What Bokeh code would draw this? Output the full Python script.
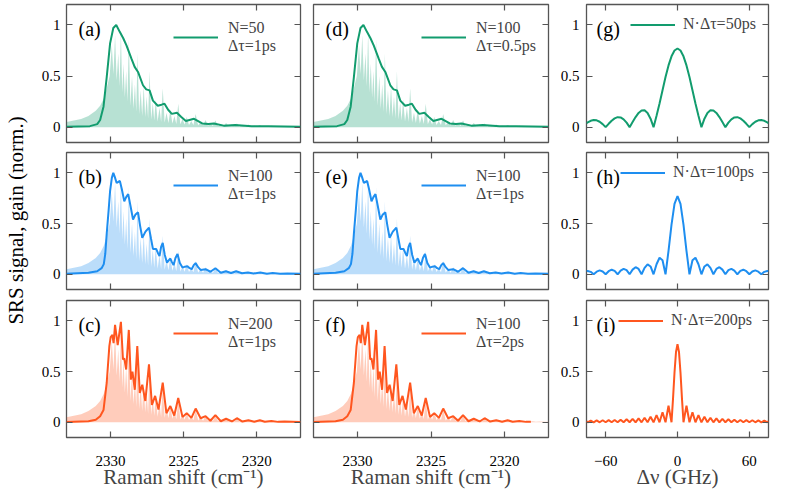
import math
from bokeh.plotting import figure
from bokeh.layouts import row, column
from bokeh.models import (Range1d, LinearAxis, FixedTicker, Label, Legend, LegendItem,
                          NumeralTickFormatter, BasicTickFormatter)
from bokeh.embed import file_html
from bokeh.resources import INLINE

FONT = "Liberation Serif"
GREEN = "#129c6e"
BLUE = "#1e8ef0"
ORANGE = "#ff561f"
FRAME = "#555555"

# ---------------- data ----------------
# theoretical Raman spectrum (shaded): low-frequency wing, then line spikes
wing_x = [2333.0, 2332.5, 2332.0, 2331.5, 2331.0, 2330.7, 2330.45, 2330.25, 2330.05]
wing_y = [0.05, 0.065, 0.08, 0.11, 0.16, 0.21, 0.28, 0.38, 0.50]
spike_x = [2329.90, 2329.68, 2329.46, 2329.28, 2329.10, 2328.92, 2328.74, 2328.52, 2328.32,
           2328.14, 2327.93, 2327.72, 2327.52, 2327.32, 2327.10, 2326.90, 2326.64, 2326.42,
           2326.16, 2325.90, 2325.62, 2325.36, 2325.07, 2324.78, 2324.47, 2324.17, 2323.83,
           2323.49, 2323.16, 2322.82, 2322.45, 2322.09, 2321.70, 2321.35, 2320.97, 2320.56,
           2320.16, 2319.78, 2319.38, 2318.96, 2318.53, 2318.09, 2317.62]
spike_h = [0.80, 0.90, 0.72, 0.93, 0.62, 0.55, 0.86, 0.50, 0.42, 0.72, 0.36, 0.40, 0.30,
           0.55, 0.24, 0.27, 0.19, 0.38, 0.14, 0.17, 0.11, 0.23, 0.08, 0.10, 0.06, 0.13,
           0.05, 0.07, 0.04, 0.065, 0.03, 0.04, 0.025, 0.035, 0.02, 0.025, 0.015, 0.02,
           0.012, 0.015, 0.01, 0.01, 0.008]
notch_y = [0.52, 0.46, 0.40, 0.34, 0.29, 0.25, 0.21, 0.18, 0.15, 0.13, 0.11, 0.10, 0.085,
           0.075, 0.065, 0.055, 0.05, 0.045, 0.04, 0.035, 0.03, 0.028, 0.025, 0.022, 0.02,
           0.018, 0.016, 0.014, 0.012, 0.011, 0.01, 0.009, 0.008, 0.007, 0.007, 0.006,
           0.006, 0.005, 0.005, 0.005, 0.004, 0.004, 0.004]
spec_end = 2316.9

# measured SRS signal, N*dtau = 50 ps  (a, d)
a_x = [2333.0, 2331.4, 2330.9, 2330.7, 2330.47, 2330.25, 2330.02, 2329.80, 2329.60, 2329.35,
       2329.12, 2328.90, 2328.56, 2328.34, 2328.11, 2327.77, 2327.55, 2327.32, 2327.09,
       2326.76, 2326.50, 2326.30, 2326.05, 2325.80, 2325.45, 2325.15, 2324.84, 2324.28,
       2323.72, 2323.30, 2322.93, 2322.25, 2321.47, 2320.34, 2319.2, 2317.0]
a_y = [0.003, 0.01, 0.03, 0.07, 0.20, 0.49, 0.82, 0.97, 1.00, 0.93, 0.87, 0.80, 0.67,
       0.59, 0.54, 0.41, 0.37, 0.36, 0.26, 0.21, 0.22, 0.23, 0.17, 0.13, 0.14, 0.10, 0.06,
       0.082, 0.036, 0.03, 0.036, 0.015, 0.02, 0.01, 0.008, 0.003]

# N*dtau = 100 ps  (b, e)
b_x = [2333.0, 2331.5, 2330.9, 2330.6, 2330.45, 2330.35, 2330.25, 2330.12, 2330.02, 2329.90,
       2329.80, 2329.70, 2329.57, 2329.45, 2329.35, 2329.22, 2329.05, 2328.92, 2328.78,
       2328.62, 2328.45, 2328.28, 2328.11, 2327.97, 2327.82, 2327.60, 2327.36, 2327.22,
       2327.09, 2326.98, 2326.87, 2326.75, 2326.64, 2326.53, 2326.42, 2326.28, 2326.13,
       2326.00, 2325.90, 2325.79, 2325.68, 2325.55, 2325.41, 2325.25, 2325.07, 2324.90,
       2324.73, 2324.58, 2324.44, 2324.30, 2324.17, 2324.00, 2323.83, 2323.49, 2323.16,
       2322.82, 2322.45, 2322.10, 2321.75, 2321.40, 2321.0, 2320.6, 2320.2, 2319.75,
       2319.3, 2318.9, 2318.4, 2317.9, 2317.0]
b_y = [0.005, 0.015, 0.03, 0.06, 0.10, 0.20, 0.40, 0.63, 0.82, 0.95, 1.00, 0.96, 0.90,
       0.91, 0.92, 0.84, 0.72, 0.76, 0.79, 0.67, 0.54, 0.59, 0.61, 0.48, 0.36, 0.42, 0.46,
       0.35, 0.25, 0.25, 0.25, 0.21, 0.18, 0.27, 0.31, 0.19, 0.115, 0.14, 0.155, 0.12,
       0.09, 0.16, 0.20, 0.11, 0.066, 0.075, 0.08, 0.06, 0.05, 0.09, 0.11, 0.07, 0.043,
       0.05, 0.025, 0.06, 0.015, 0.03, 0.012, 0.03, 0.01, 0.018, 0.008, 0.018, 0.006,
       0.012, 0.005, 0.008, 0.004]

# N*dtau = 200 ps  (c, f)
c_x = [2333.0, 2331.5, 2331.0, 2330.7, 2330.47, 2330.25, 2330.07, 2329.98, 2329.86, 2329.78,
       2329.68, 2329.50, 2329.28, 2329.14, 2329.05, 2328.92, 2328.74, 2328.60, 2328.49,
       2328.33, 2328.16, 2327.99, 2327.82, 2327.61, 2327.36, 2327.16, 2326.94, 2326.71,
       2326.42, 2326.17, 2325.90, 2325.63, 2325.36, 2325.07, 2324.78, 2324.46, 2324.17,
       2323.83, 2323.49, 2323.16, 2322.82, 2322.45, 2322.09, 2321.69, 2321.35, 2320.97,
       2320.56, 2320.16, 2319.78, 2319.44, 2318.99, 2318.53, 2318.09, 2317.0]
c_y = [0.003, 0.01, 0.025, 0.06, 0.12, 0.39, 0.75, 0.84, 0.86, 0.78, 0.96, 0.76, 0.99,
       0.62, 0.63, 0.52, 0.91, 0.42, 0.50, 0.32, 0.75, 0.29, 0.37, 0.21, 0.57, 0.17, 0.26,
       0.125, 0.39, 0.09, 0.16, 0.066, 0.24, 0.053, 0.09, 0.043, 0.135, 0.04, 0.06, 0.015,
       0.07, 0.01, 0.035, 0.008, 0.04, 0.007, 0.02, 0.005, 0.02, 0.005, 0.012, 0.004,
       0.008, 0.003]
f_end = 2318.2   # (f) spectrum stops here

# instrument functions (g, h, i)
g_x = [-76, -75, -72.5, -70, -67.5, -65, -62.5, -60, -57.5, -55, -52.5, -50, -47.5, -45,
       -42.5, -40, -37.5, -35, -32.5, -30, -27.5, -25, -22.5, -20, -17.5, -15, -12.5, -10,
       -7.5, -5, -2.5, 0, 2.5, 5, 7.5, 10, 12.5, 15, 17.5, 20, 22.5, 25, 27.5, 30, 32.5,
       35, 37.5, 40, 42.5, 45, 47.5, 50, 52.5, 55, 57.5, 60, 62.5, 65, 67.5, 70, 72.5,
       75, 76]
g_y = [0.038, 0.046, 0.062, 0.070, 0.067, 0.053, 0.030, 0.0, 0.033, 0.063, 0.086, 0.098,
       0.095, 0.077, 0.044, 0.0, 0.050, 0.099, 0.139, 0.163, 0.165, 0.139, 0.083, 0.0,
       0.112, 0.231, 0.362, 0.490, 0.604, 0.693, 0.750, 0.770, 0.750, 0.693, 0.604, 0.490,
       0.362, 0.231, 0.112, 0.0, 0.083, 0.139, 0.165, 0.163, 0.139, 0.099, 0.050, 0.0,
       0.044, 0.077, 0.095, 0.098, 0.086, 0.063, 0.033, 0.0, 0.030, 0.053, 0.067, 0.070,
       0.062, 0.046, 0.038]
h_x = g_x
h_y = [0.031, 0.033, 0.024, 0.0, 0.026, 0.038, 0.028, 0.0, 0.030, 0.045, 0.033, 0.0,
       0.036, 0.054, 0.041, 0.0, 0.046, 0.070, 0.053, 0.0, 0.063, 0.098, 0.077, 0.0,
       0.099, 0.163, 0.139, 0.0, 0.231, 0.490, 0.693, 0.770, 0.693, 0.490, 0.231, 0.0,
       0.139, 0.163, 0.099, 0.0, 0.077, 0.098, 0.063, 0.0, 0.053, 0.070, 0.046, 0.0,
       0.041, 0.054, 0.036, 0.0, 0.033, 0.045, 0.030, 0.0, 0.028, 0.038, 0.026, 0.0,
       0.024, 0.033, 0.031]
i_x = [-76, -75, -72.5, -70, -67.5, -65, -62.5, -60, -57.5, -55, -52.5, -50, -47.5, -45,
       -42.5, -40, -37.5, -35, -32.5, -30, -27.5, -25, -22.5, -20, -17.5, -15, -12.5, -10,
       -7.5, -5, -3.75, -2.5, -1.25, 0, 1.25, 2.5, 3.75, 5, 7.5, 10, 12.5, 15, 17.5, 20,
       22.5, 25, 27.5, 30, 32.5, 35, 37.5, 40, 42.5, 45, 47.5, 50, 52.5, 55, 57.5, 60,
       62.5, 65, 67.5, 70, 72.5, 75, 76]
i_y = [0.010, 0.0, 0.017, 0.0, 0.018, 0.0, 0.020, 0.0, 0.021, 0.0, 0.023, 0.0, 0.026,
       0.0, 0.029, 0.0, 0.033, 0.0, 0.038, 0.0, 0.045, 0.0, 0.054, 0.0, 0.070, 0.0, 0.098,
       0.0, 0.163, 0.0, 0.231, 0.490, 0.693, 0.770, 0.693, 0.490, 0.231, 0.0, 0.163, 0.0,
       0.098, 0.0, 0.070, 0.0, 0.054, 0.0, 0.045, 0.0, 0.038, 0.0, 0.033, 0.0, 0.029, 0.0,
       0.026, 0.0, 0.023, 0.0, 0.021, 0.0, 0.020, 0.0, 0.018, 0.0, 0.017, 0.0, 0.010]

raman_ticks = [2330, 2325, 2320]
dnu_ticks = [-60, 0, 60]
y_ticks = [0, 0.5, 1]

# shaded spectrum outline built from the arrays above
fill_x = list(wing_x)
fill_y = list(wing_y)
for k in range(len(spike_x)):
    nxt = spike_x[k + 1] if k + 1 < len(spike_x) else spec_end
    fill_x += [spike_x[k], (spike_x[k] + nxt) / 2]
    fill_y += [spike_h[k], notch_y[k]]
fill_x.append(spec_end)
fill_y.append(notch_y[-1])

f_x = [x for x in c_x if x >= f_end] + [f_end]
f_y = [y for x, y in zip(c_x, c_y) if x >= f_end] + [0.006]

# ---------------- layout ----------------
COLS = [dict(l=25, r=6, fw=234, xr=(2333, 2317), xt=raman_ticks, leg=107),
        dict(l=7, r=4, fw=235, xr=(2333, 2317), xt=raman_ticks, leg=108),
        dict(l=34, r=8, fw=182, xr=(-76, 76), xt=dnu_ticks, leg=None)]
ROWS = [dict(t=4, b=5, fh=138), dict(t=5, b=5, fh=137), dict(t=6, b=54, fh=137)]

PANELS = {
    (0, 0): ("(a)", a_x, a_y, GREEN, "N=50\nΔτ=1ps", True),
    (0, 1): ("(b)", b_x, b_y, BLUE, "N=100\nΔτ=1ps", True),
    (0, 2): ("(c)", c_x, c_y, ORANGE, "N=200\nΔτ=1ps", True),
    (1, 0): ("(d)", a_x, a_y, GREEN, "N=100\nΔτ=0.5ps", True),
    (1, 1): ("(e)", b_x, b_y, BLUE, "N=100\nΔτ=1ps", True),
    (1, 2): ("(f)", f_x, f_y, ORANGE, "N=100\nΔτ=2ps", True),
    (2, 0): ("(g)", g_x, g_y, GREEN, "N·Δτ=50ps", False),
    (2, 1): ("(h)", h_x, h_y, BLUE, "N·Δτ=100ps", False),
    (2, 2): ("(i)", i_x, i_y, ORANGE, "N·Δτ=200ps", False),
}
COL3_LEG = [44, 34, 32]


def style_axis(ax, labels, standoff):
    ax.major_tick_in = 6
    ax.major_tick_out = 0
    ax.minor_tick_line_color = None
    ax.axis_line_color = None
    ax.major_tick_line_color = FRAME
    ax.major_tick_line_width = 1.2
    ax.major_label_text_font = FONT
    if labels:
        ax.major_label_text_color = "black"
        ax.major_label_text_font_size = "15px"
        ax.major_label_standoff = standoff
    else:
        ax.major_label_text_color = None
        ax.major_label_text_font_size = "1px"
        ax.major_label_standoff = 0


def make_panel(ci, ri):
    c, r = COLS[ci], ROWS[ri]
    tag, lx, ly, color, legtext, spectrum = PANELS[(ci, ri)]
    p = figure(frame_width=c["fw"], frame_height=r["fh"],
               min_border_left=c["l"], min_border_right=c["r"],
               min_border_top=r["t"], min_border_bottom=r["b"],
               x_range=Range1d(*c["xr"]), y_range=Range1d(-0.15, 1.2),
               output_backend="svg", toolbar_location=None, tools="")
    p.grid.visible = False
    p.outline_line_color = FRAME
    p.outline_line_width = 1.3
    p.background_fill_color = "white"
    p.border_fill_color = "white"

    bottom = p.below[0]
    left = p.left[0]
    xt = FixedTicker(ticks=c["xt"])
    yt = FixedTicker(ticks=y_ticks)
    bottom.ticker = xt
    left.ticker = yt
    bottom.formatter = BasicTickFormatter()
    left.formatter = NumeralTickFormatter(format="0.[0]")
    style_axis(bottom, ri == 2, 18)
    style_axis(left, ci != 1, 6 if ci == 0 else 7)
    top = LinearAxis(ticker=xt)
    right = LinearAxis(ticker=yt)
    style_axis(top, False, 0)
    style_axis(right, False, 0)
    p.add_layout(top, "above")
    p.add_layout(right, "right")

    if ri == 2:
        bottom.axis_label = "Δν (GHz)" if ci == 2 else "Raman shift (cm⁻¹)"
        bottom.axis_label_text_font = FONT
        bottom.axis_label_text_font_size = "21px"
        bottom.axis_label_text_font_style = "normal"
        bottom.axis_label_standoff = -4

    if spectrum:
        p.varea(x=fill_x, y1=0, y2=fill_y, fill_color=color, fill_alpha=0.3)
    ln = p.line(lx, ly, line_color=color, line_width=2)

    if spectrum:
        loc = (c["leg"], r["fh"] - 51)
        gh = 32
    else:
        loc = (COL3_LEG[ri], r["fh"] - 29)
        gh = 17
    leg = Legend(items=[LegendItem(label=legtext, renderers=[ln])], location=loc,
                 padding=0, margin=0, spacing=0, border_line_color=None,
                 background_fill_alpha=0, glyph_width=45, glyph_height=gh,
                 label_standoff=10 if spectrum else 8,
                 label_text_font=FONT, label_text_font_size="16px",
                 label_text_line_height=1.0)
    p.add_layout(leg)

    p.add_layout(Label(x=12 if ci < 2 else 10, y=r["fh"] - 24, x_units="screen",
                       y_units="screen", text=tag, text_font=FONT,
                       text_font_size="20px", text_baseline="middle", text_color="black"))
    return p


grid_rows = []
for ri in range(3):
    grid_rows.append(row([make_panel(ci, ri) for ci in range(3)], spacing=0))
grid = column(grid_rows, spacing=0)

H = sum(r["t"] + r["fh"] + r["b"] for r in ROWS)
lab = figure(width=38, height=H, min_border=0, x_range=Range1d(0, 1), y_range=Range1d(0, 1),
             x_axis_type=None, y_axis_type=None, output_backend="svg",
             toolbar_location=None, tools="")
lab.outline_line_color = None
lab.grid.visible = False
lab.add_layout(Label(x=15, y=H - 220, x_units="screen", y_units="screen",
                     text="SRS signal, gain (norm.)", angle=math.pi / 2,
                     text_align="center", text_baseline="middle", text_font=FONT,
                     text_font_size="21px", text_color="black"))

layout = row([lab, grid], spacing=0)

open("out.html", "w").write(file_html(layout, INLINE))
